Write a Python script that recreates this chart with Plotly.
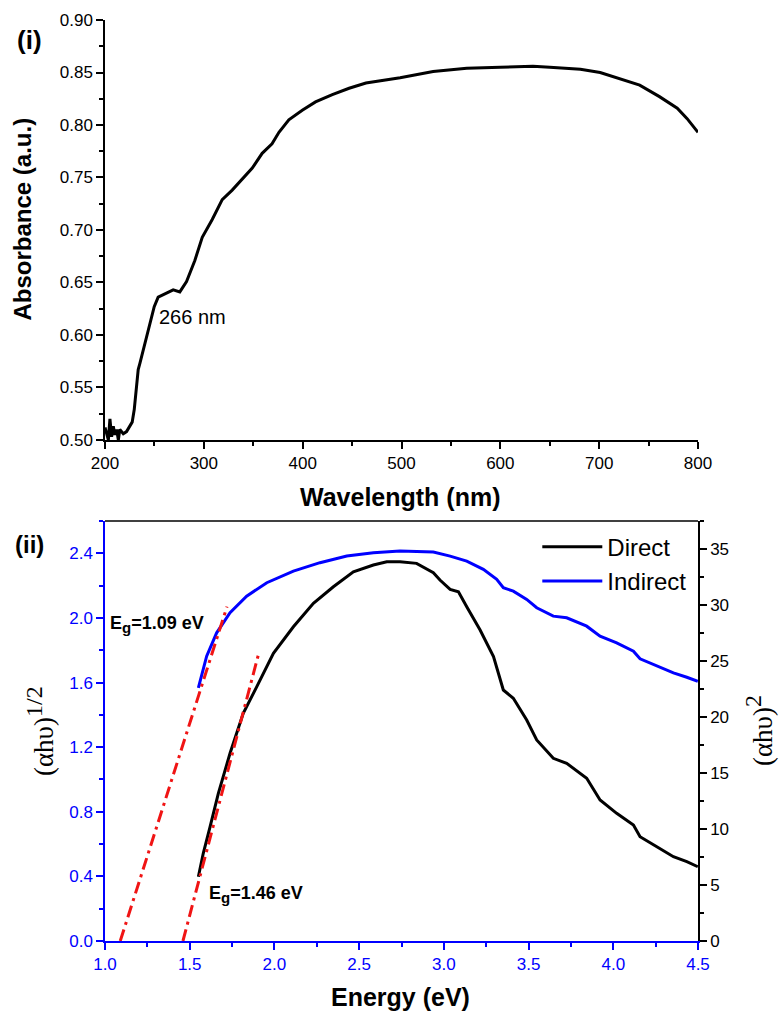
import plotly.graph_objects as go

# ---- panel (i): UV-Vis absorbance spectrum ----
wavelength = [200, 202, 203.4, 205, 206.7, 208.4, 210, 211.8, 213.5, 215, 218.5, 221.8,
              225.2, 227.5, 229.6, 231, 233.6, 235.3, 240.4, 245.4, 249.8, 253.8, 260.6,
              269, 275.7, 282.5, 290.9, 298.4, 308.5, 318.6, 328.7, 338.8, 349, 359, 369,
              376, 386, 399.6, 413, 430, 447, 464, 498.6, 532, 566, 600, 633, 650, 681,
              701, 718, 741, 761, 779, 789, 800]
absorbance = [0.512, 0.503, 0.500, 0.520, 0.503, 0.513, 0.505, 0.510, 0.500, 0.510, 0.506,
              0.508, 0.513, 0.517, 0.529, 0.544, 0.567, 0.573, 0.592, 0.611, 0.627, 0.636,
              0.639, 0.643, 0.641, 0.651, 0.671, 0.693, 0.710, 0.729, 0.738, 0.748, 0.759,
              0.773, 0.782, 0.793, 0.805, 0.814, 0.822, 0.829, 0.835, 0.840, 0.845, 0.851,
              0.854, 0.855, 0.856, 0.855, 0.853, 0.850, 0.845, 0.838, 0.827, 0.816, 0.806,
              0.793]

# ---- panel (ii): Tauc plots ----
energy_indirect = [1.551, 1.600, 1.659, 1.738, 1.836, 1.955, 2.112, 2.269, 2.427, 2.584,
                   2.741, 2.938, 3.037, 3.135, 3.233, 3.312, 3.351, 3.410, 3.489, 3.548,
                   3.646, 3.725, 3.843, 3.922, 4.020, 4.119, 4.158, 4.257, 4.355, 4.434, 4.499]
indirect = [1.567, 1.763, 1.908, 2.032, 2.135, 2.218, 2.290, 2.342, 2.383, 2.404, 2.414,
            2.408, 2.383, 2.352, 2.301, 2.239, 2.187, 2.166, 2.115, 2.063, 2.011, 2.001,
            1.949, 1.887, 1.846, 1.794, 1.747, 1.701, 1.660, 1.633, 1.608]

energy_direct = [1.551, 1.580, 1.620, 1.669, 1.738, 1.816, 1.896, 1.994, 2.112, 2.230,
                 2.348, 2.466, 2.584, 2.663, 2.741, 2.839, 2.938, 2.977, 3.037, 3.086,
                 3.135, 3.214, 3.293, 3.351, 3.410, 3.489, 3.548, 3.646, 3.725, 3.843,
                 3.922, 4.020, 4.119, 4.158, 4.257, 4.355, 4.434, 4.499]
direct = [5.74, 7.83, 10.2, 13.19, 16.76, 20.33, 22.71, 25.69, 28.06, 30.15, 31.63, 32.97,
          33.57, 33.87, 33.87, 33.72, 32.89, 32.23, 31.40, 31.19, 29.85, 27.77, 25.39,
          22.41, 21.67, 19.73, 17.95, 16.31, 15.86, 14.53, 12.59, 11.40, 10.36, 9.31,
          8.42, 7.53, 7.08, 6.63]

# linear extrapolations to the energy axis (band gaps)
eg_indirect = 1.09
eg_direct = 1.46
fit_indirect_E = [eg_indirect, 1.72]
fit_indirect_y = [0.0, 2.07]
fit_direct_E = [eg_direct, 1.906]
fit_direct_y = [0.0, 25.6]

BLUE = "#0000ff"
RED = "#f01414"
SANS = "Arial, Liberation Sans, sans-serif"
SERIF = "Times New Roman, Liberation Serif, serif"
FIT_DASH = "12px,5px,3px,5px"

fig = go.Figure()

fig.add_trace(go.Scatter(x=wavelength, y=absorbance, mode="lines",
                         line=dict(color="black", width=3), showlegend=False,
                         xaxis="x", yaxis="y"))

fig.add_trace(go.Scatter(x=energy_direct, y=direct, mode="lines", name="Direct",
                         line=dict(color="black", width=3), xaxis="x2", yaxis="y3"))
fig.add_trace(go.Scatter(x=energy_indirect, y=indirect, mode="lines", name="Indirect",
                         line=dict(color=BLUE, width=3), xaxis="x2", yaxis="y2"))
fig.add_trace(go.Scatter(x=fit_indirect_E, y=fit_indirect_y, mode="lines", showlegend=False,
                         line=dict(color=RED, width=3, dash=FIT_DASH), xaxis="x2", yaxis="y2"))
fig.add_trace(go.Scatter(x=fit_direct_E, y=fit_direct_y, mode="lines", showlegend=False,
                         line=dict(color=RED, width=3, dash=FIT_DASH), xaxis="x2", yaxis="y3"))

def axis_style(color, major, minor, fmt, rng, **kw):
    d = dict(range=rng, tick0=rng[0], dtick=major, tickformat=fmt,
             showline=True, linecolor=color, linewidth=1.5,
             ticks="outside", ticklen=7, tickwidth=1.5, tickcolor=color,
             tickfont=dict(family=SANS, size=17, color=color),
             showgrid=False, zeroline=False, fixedrange=True,
             minor=dict(dtick=minor, ticks="outside", ticklen=4, tickwidth=1.5,
                        tickcolor=color, showgrid=False))
    d.update(kw)
    return d

fig.update_layout(
    width=779, height=1012,
    margin=dict(l=105, r=81, t=20, b=71),
    paper_bgcolor="white", plot_bgcolor="white",
    font=dict(family=SANS, color="black"),
    xaxis=axis_style("black", 100, 50, "d", [200, 800], domain=[0, 1], anchor="y"),
    yaxis=axis_style("black", 0.05, 0.025, ".2f", [0.5, 0.9], domain=[0.544, 1], anchor="x"),
    xaxis2=axis_style(BLUE, 0.5, 0.25, ".1f", [1.0, 4.5], domain=[0, 1], anchor="y2"),
    yaxis2=axis_style(BLUE, 0.4, 0.2, ".1f", [0, 2.6], domain=[0, 0.456], anchor="x2"),
    yaxis3=axis_style("black", 5, 2.5, "d", [0, 37.5], overlaying="y2", side="right",
                      anchor="x2"),
    legend=dict(x=0.729, y=0.452, xanchor="left", yanchor="top",
                bgcolor="rgba(0,0,0,0)", font=dict(family=SANS, size=24, color="black"),
                itemwidth=60, tracegroupgap=0),
    showlegend=True,
)

# frame line along the top of panel (ii)
fig.add_shape(type="line", xref="x2 domain", yref="y2 domain", x0=0, x1=1, y0=1, y1=1,
              line=dict(color="black", width=1.5))

annotations = [
    dict(text="<b>(i)</b>", x=-0.127, y=0.978, font=dict(size=26)),
    dict(text="<b>(ii)</b>", x=-0.128, y=0.430, font=dict(size=24)),
    dict(text="<b>Absorbance (a.u.)</b>", x=-0.139, y=0.784, textangle=-90,
         font=dict(size=24)),
    dict(text="<b>Wavelength (nm)</b>", x=0.4975, y=0.482, font=dict(size=25)),
    dict(text="<b>Energy (eV)</b>", x=0.4975, y=-0.0605, font=dict(size=25)),
    dict(text="(αhυ)<sup><span style='font-size:24px'>1/2</span></sup>", x=-0.1096,
         y=0.228, textangle=-90, font=dict(family=SERIF, size=27)),
    dict(text="(αhυ)<sup><span style='font-size:24px'>2</span></sup>", x=1.103,
         y=0.228, textangle=-90, font=dict(family=SERIF, size=27)),
]
for a in annotations:
    a.update(xref="paper", yref="paper", showarrow=False, xanchor="center", yanchor="middle")
    a["font"].setdefault("family", SANS)
    a["font"].setdefault("color", "black")
    fig.add_annotation(**a)

fig.add_annotation(text="266 nm", x=252.6, y=0.617, xref="x", yref="y", showarrow=False,
                   xanchor="left", yanchor="middle",
                   font=dict(family=SANS, size=20, color="black"))
EG_LABEL = "<b>E<sub><span style='font-size:15px'>g</span></sub>={:.2f} eV</b>"
fig.add_annotation(text=EG_LABEL.format(eg_indirect), x=1.018, y=1.96,
                   xref="x2", yref="y2", showarrow=False, xanchor="left", yanchor="middle",
                   font=dict(family=SANS, size=18, color="black"))
fig.add_annotation(text=EG_LABEL.format(eg_direct), x=1.602, y=0.285,
                   xref="x2", yref="y2", showarrow=False, xanchor="left", yanchor="middle",
                   font=dict(family=SANS, size=18, color="black"))

fig.write_html("out.html")
